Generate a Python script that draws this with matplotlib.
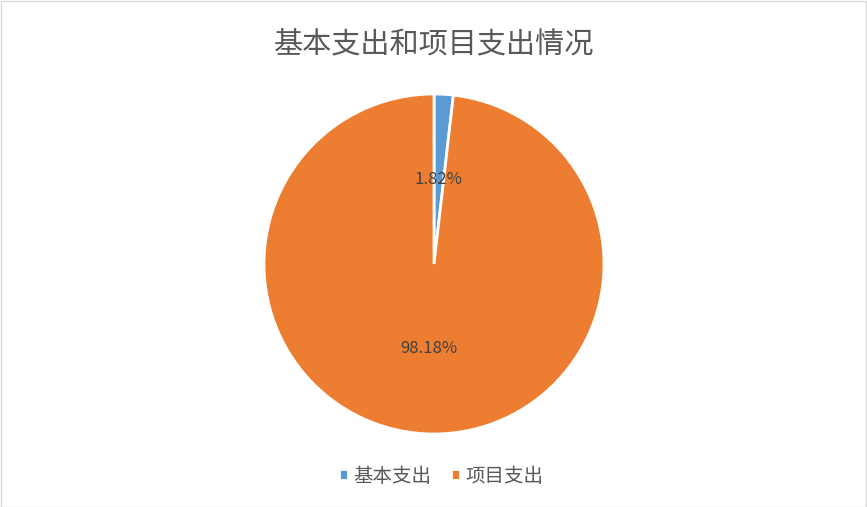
import matplotlib
matplotlib.use("Agg")
import matplotlib.pyplot as plt
from matplotlib.patches import Rectangle

plt.rcParams['font.family'] = ['Noto Sans CJK SC', 'DejaVu Sans']

labels = ['基本支出', '项目支出']
shares = [1.82, 98.18]
colors = ['#5b9bd5', '#ed7d31']

W, H = 867, 507
fig = plt.figure(figsize=(W / 100, H / 100), dpi=100)

# pie area: center (434, 264), radius 170 px
cx, cy, r = 434, 264, 170
ax = fig.add_axes([(cx - r) / W, (H - cy - r) / H, 2 * r / W, 2 * r / H])
wedges, _, autotexts = ax.pie(
    shares, colors=colors, startangle=90, counterclock=False,
    autopct=lambda p: f'{p:.2f}%', pctdistance=0.5,
    wedgeprops=dict(edgecolor='white', linewidth=2),
    textprops=dict(color='#404040', fontsize=12),
)
ax.set_xlim(-1, 1)
ax.set_ylim(-1, 1)
ax.set_aspect('equal')
ax.axis('off')

fig.text(cx / W, 1 - 45 / H, '基本支出和项目支出情况', ha='center', va='center',
         fontsize=21, color='#595959')

fig.legend(wedges, labels, loc='center', bbox_to_anchor=(441 / W, 1 - 476 / H),
           ncol=2, frameon=False, fontsize=14, labelcolor='#595959',
           handlelength=0.5, handleheight=0.5, handletextpad=0.25, columnspacing=1.0)

fig.patches.append(Rectangle((0.5 / W, 0.5 / H), 1 - 1.5 / W, 1 - 1.5 / H,
                             transform=fig.transFigure, fill=False,
                             edgecolor='#d9d9d9', linewidth=1))

fig.savefig('out.png', dpi=100)
